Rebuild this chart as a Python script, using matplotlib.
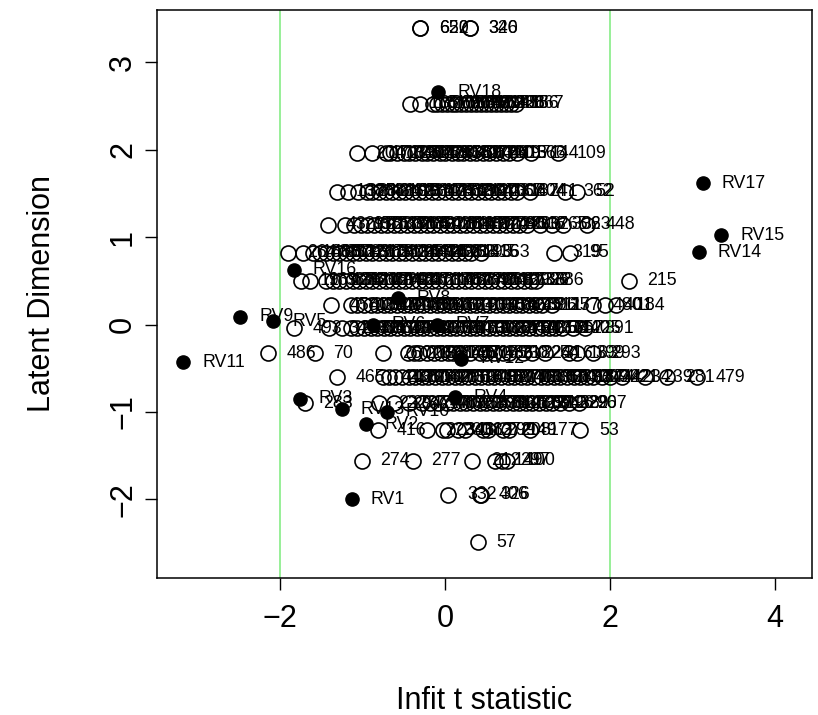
import matplotlib
matplotlib.use("Agg")
import matplotlib.pyplot as plt

plt.rcParams['font.family'] = ['Liberation Sans', 'DejaVu Sans']

# person ability levels (latent dimension) and their infit t values
levels = [3.39, 2.53, 1.96, 1.52, 1.14, 0.82, 0.50, 0.22, -0.04, -0.33, -0.60, -0.90, -1.21, -1.56, -1.95, -2.49]

p1_x = [-0.30, -0.30, 0.30, 0.30]
p1_id = ["652", "620", "340", "326"]

p2_x = [-0.42, -0.30, -0.15, -0.10, -0.04, 0.02, 0.08, 0.14, 0.20, 0.26, 0.32, 0.38, 0.44, 0.50,
        0.56, 0.62, 0.68, 0.74, 0.80, 0.86]
p2_id = ["118", "35", "262", "105", "66", "150", "207", "88", "143", "311", "96", "402", "219", "63",
         "377", "286", "455", "28", "186", "167"]

p3_x = [-1.07, -0.88, -0.72, -0.66, -0.58, -0.50, -0.44, -0.36, -0.28, -0.22, -0.14, -0.06, 0.00,
        0.08, 0.16, 0.22, 0.30, 0.38, 0.46, 0.54, 0.62, 0.70, 0.78, 0.88, 1.04, 1.37]
p3_id = ["204", "171", "13", "228", "390", "452", "314", "77", "463", "120", "245", "9", "338",
         "181", "406", "59", "272", "134", "441", "86", "301", "197", "15", "366", "144", "109"]

p4_x = [-1.31, -1.18, -1.05, -0.95, -0.88, -0.80, -0.72, -0.64, -0.56, -0.48, -0.40, -0.32, -0.24,
        -0.16, -0.08, 0.00, 0.08, 0.16, 0.24, 0.32, 0.40, 0.48, 0.56, 0.64, 0.72, 0.80, 0.88, 1.03,
        1.45, 1.60]
p4_id = ["138", "325", "28", "383", "46", "210", "162", "419", "95", "288", "31", "347", "173",
         "11", "256", "432", "82", "199", "364", "124", "470", "41", "231", "308", "67", "187", "404", "241",
         "362", "52"]

p5_x = [-1.42, -1.21, -1.10, -1.02, -0.94, -0.86, -0.78, -0.70, -0.62, -0.54, -0.46, -0.38, -0.30,
        -0.22, -0.14, -0.06, 0.02, 0.10, 0.18, 0.26, 0.34, 0.42, 0.50, 0.58, 0.66, 0.74, 0.82, 0.90,
        1.00, 1.15, 1.30, 1.43, 1.72]
p5_id = ["43", "297", "158", "375", "21", "233", "117", "398", "72", "264", "189", "350", "5",
         "221", "426", "101", "318", "64", "243", "157", "392", "27", "276", "128", "445", "90", "203", "337",
         "16", "265", "306", "323", "448"]

p6_x = [-1.90, -1.72, -1.60, -1.52, -1.44, -1.36, -1.28, -1.20, -1.12, -1.04, -0.96, -0.88, -0.80,
        -0.72, -0.64, -0.56, -0.48, -0.40, -0.32, -0.24, -0.16, -0.08, 0.00, 0.08, 0.16, 0.24, 0.32,
        0.44, 1.32, 1.52]
p6_id = ["264", "166", "488", "36", "253", "379", "112", "226", "49", "315", "179", "85", "282",
         "409", "136", "24", "359", "192", "438", "74", "250", "126", "381", "213", "33", "295", "415",
         "363", "319", "95"]

p7_x = [-1.75, -1.64, -1.44, -1.36, -1.28, -1.20, -1.12, -1.04, -0.96, -0.88, -0.80, -0.72, -0.64,
        -0.56, -0.48, -0.40, -0.32, -0.24, -0.16, -0.08, 0.00, 0.08, 0.16, 0.24, 0.32, 0.40, 0.48,
        0.56, 0.64, 0.72, 0.80, 0.88, 0.96, 1.04, 1.10, 2.23]
p7_id = ["19", "169", "387", "131", "252", "76", "411", "205", "339", "47", "291", "148", "424",
         "93", "236", "371", "6", "217", "330", "108", "457", "61", "284", "176", "395", "40", "269",
         "133", "417", "81", "299", "185", "372", "26", "386", "215"]

p8_x = [-1.38, -1.14, -1.06, -0.98, -0.90, -0.82, -0.74, -0.66, -0.58, -0.50, -0.42, -0.34, -0.26,
        -0.18, -0.10, -0.02, 0.06, 0.14, 0.22, 0.30, 0.38, 0.46, 0.54, 0.62, 0.70, 0.78, 0.86, 0.94,
        1.02, 1.10, 1.18, 1.30, 1.80, 1.94, 2.08]
p8_id = ["458", "405", "155", "25", "343", "122", "400", "71", "248", "186", "353", "29", "261",
         "116", "413", "80", "313", "240", "3", "201", "368", "97", "434", "58", "389", "168", "278", "45",
         "396", "211", "125", "177", "480", "401", "184"]

p9_x = [-1.83, -1.40, -1.25, -1.14, -1.06, -0.98, -0.90, -0.82, -0.74, -0.66, -0.58, -0.50, -0.42,
        -0.34, -0.26, -0.18, -0.10, -0.02, 0.06, 0.14, 0.22, 0.30, 0.38, 0.46, 0.54, 0.62, 0.70, 0.78,
        0.86, 0.94, 1.02, 1.10, 1.18, 1.26, 1.34, 1.42, 1.55, 1.70]
p9_id = ["493", "34", "263", "141", "384", "55", "227", "178", "349", "10", "289", "164", "431",
         "99", "266", "206", "378", "38", "246", "139", "410", "73", "302", "188", "354", "22", "275", "154",
         "421", "94", "335", "216", "374", "68", "257", "140", "225", "391"]

p10_x = [-2.15, -1.58, -0.75, -0.45, -0.38, -0.31, -0.22, -0.13, -0.05, 0.04, 0.10, 0.17, 0.30,
         0.42, 0.50, 0.60, 0.70, 0.78, 0.95, 1.05, 1.21, 1.51, 1.60, 1.79]
p10_id = ["486", "70", "260", "20", "232", "191", "361", "48", "279", "145", "407", "78", "305",
          "175", "436", "83", "218", "30", "224", "254", "316", "163", "399", "293"]

p11_x = [-1.31, -0.75, -0.68, -0.60, -0.52, -0.44, -0.36, -0.28, -0.20, -0.12, -0.04, 0.04, 0.12,
         0.20, 0.28, 0.36, 0.44, 0.52, 0.60, 0.68, 0.76, 0.84, 0.92, 1.00, 1.08, 1.16, 1.24, 1.32,
         1.40, 1.48, 1.56, 1.64, 1.72, 1.80, 1.90, 2.00, 2.15, 2.42, 2.69, 3.05]
p11_id = ["465", "44", "237", "121", "360", "87", "251", "182", "427", "12", "296", "159", "376",
          "65", "209", "443", "102", "327", "50", "271", "146", "403", "79", "238", "193", "356", "17", "283",
          "130", "418", "92", "309", "174", "444", "242", "221", "234", "239", "281", "479"]

p12_x = [-1.70, -0.80, -0.62, -0.44, -0.28, -0.18, -0.08, 0.02, 0.10, 0.18, 0.26, 0.34, 0.42,
         0.50, 0.58, 0.66, 0.74, 0.82, 0.90, 0.98, 1.06, 1.14, 1.22, 1.30, 1.40, 1.50, 1.62]
p12_id = ["283", "222", "294", "37", "247", "170", "412", "89", "321", "153", "23", "258", "433",
          "98", "344", "165", "2", "280", "123", "397", "69", "312", "196", "428", "329", "290", "267"]

p13_x = [-0.81, -0.22, -0.02, 0.02, 0.16, 0.24, 0.46, 0.52, 0.70, 0.78, 1.03, 1.64]
p13_id = ["416", "223", "230", "346", "111", "382", "372", "299", "208", "149", "177", "53"]

p14_x = [-1.01, -0.39, 0.33, 0.61, 0.69, 0.75]
p14_id = ["274", "277", "212", "149", "297", "100"]

p15_x = [0.04, 0.42, 0.44]
p15_id = ["332", "406", "326"]

p16_x = [0.40]
p16_id = ["57"]

person_x = [p1_x, p2_x, p3_x, p4_x, p5_x, p6_x, p7_x, p8_x, p9_x, p10_x, p11_x, p12_x, p13_x,
            p14_x, p15_x, p16_x]
person_id = [p1_id, p2_id, p3_id, p4_id, p5_id, p6_id, p7_id, p8_id, p9_id, p10_id, p11_id, p12_id,
             p13_id, p14_id, p15_id, p16_id]

# items
item_names = ["RV1", "RV2", "RV3", "RV4", "RV5", "RV6", "RV7", "RV8", "RV9", "RV10", "RV11", "RV12",
              "RV13", "RV14", "RV15", "RV16", "RV17", "RV18"]
item_infit = [-1.13, -0.96, -1.76, 0.12, -2.08, -0.87, -0.10, -0.57, -2.48, -0.70, -3.17, 0.20,
              -1.25, 3.08, 3.35, -1.83, 3.13, -0.08]
item_loc = [-2.00, -1.14, -0.85, -0.83, 0.04, 0.00, 0.00, 0.30, 0.09, -1.00, -0.43, -0.39,
            -0.97, 0.83, 1.02, 0.63, 1.62, 2.66]

fig = plt.figure(figsize=(8.18, 7.15), dpi=100)
ax = fig.add_axes([157 / 818, 137 / 715, 655 / 818, 568 / 715])

ax.axvline(-2, color='#90EE90', lw=1.3, zorder=1)
ax.axvline(2, color='#90EE90', lw=1.3, zorder=1)

for lev, xs, ids in zip(levels, person_x, person_id):
    ys = [lev] * len(xs)
    ax.plot(xs, ys, 'o', mfc='none', mec='black', ms=10.8, mew=1.2, ls='none', zorder=2)
    for x, lab in zip(xs, ids):
        ax.annotate(lab, (x, lev), xytext=(13.5, 0), textcoords='offset points',
                    fontsize=12.8, va='center', ha='left', zorder=3)

ax.plot(item_infit, item_loc, 'o', color='black', ms=9.5, ls='none', zorder=4)
for x, y, lab in zip(item_infit, item_loc, item_names):
    ax.annotate(lab, (x, y), xytext=(13.5, 0), textcoords='offset points',
                fontsize=12.8, va='center', ha='left', zorder=5)

ax.set_xlim(-3.49, 4.45)
ax.set_ylim(-2.90, 3.60)
ax.set_xticks([-2, 0, 2, 4])
ax.set_yticks([-2, -1, 0, 1, 2, 3])
ax.tick_params(length=8.6, width=1, labelsize=22, color='black')
ax.tick_params(axis='x', pad=10)
ax.tick_params(axis='y', pad=5)
for t in ax.get_yticklabels():
    t.set_rotation(90)
    t.set_va('center')
for s in ax.spines.values():
    s.set_linewidth(1.1)

ax.set_xlabel("Infit t statistic", fontsize=22)
ax.xaxis.set_label_coords(0.5, -0.19)
ax.set_ylabel("Latent Dimension", fontsize=22, va='center')
ax.yaxis.set_label_coords(-0.176, 0.5)

fig.savefig("out.png", dpi=100)
